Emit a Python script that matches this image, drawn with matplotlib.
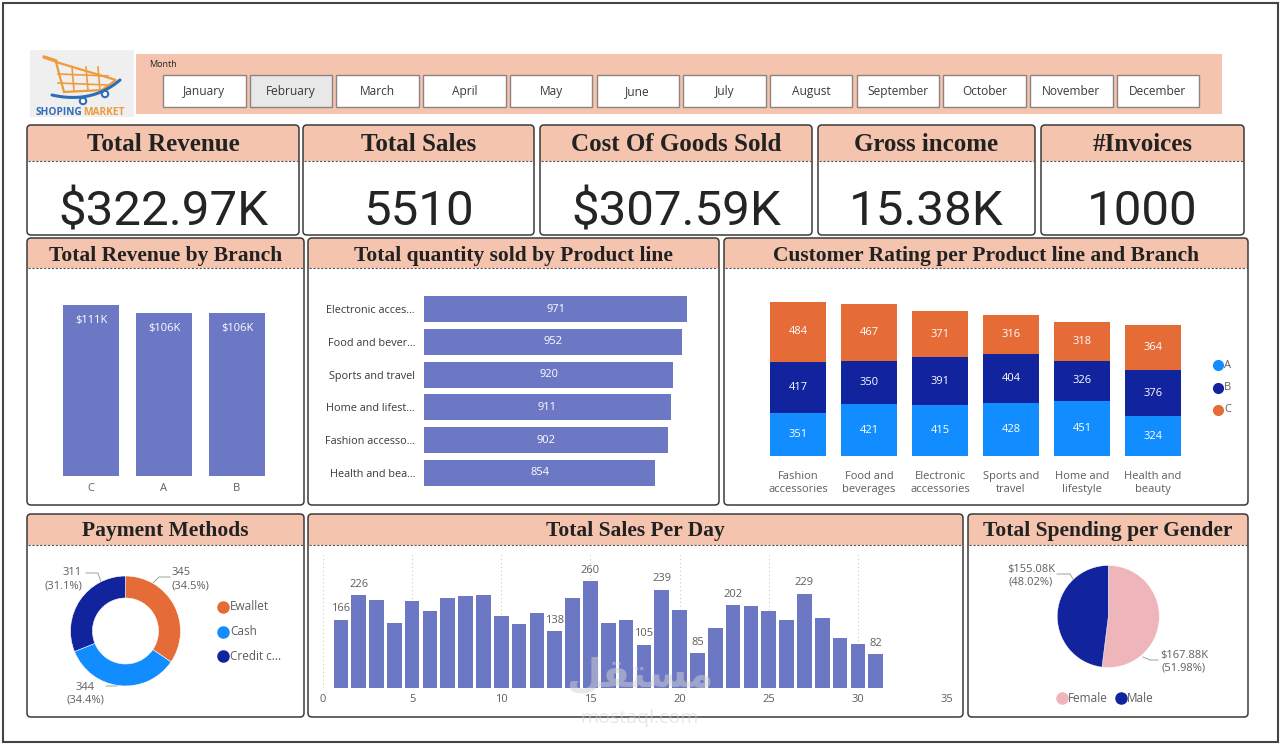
import matplotlib
matplotlib.use("Agg")
import matplotlib.pyplot as plt
from matplotlib.patches import FancyBboxPatch, Rectangle, Circle, Polygon
import numpy as np

W, H = 1282, 745

# ---- data ----
months = ["January", "February", "March", "April", "May", "June", "July",
          "August", "September", "October", "November", "December"]
selected_month = "February"

kpi_titles = ["Total Revenue", "Total Sales", "Cost Of Goods Sold", "Gross income", "#Invoices"]
kpi_values = ["$322.97K", "5510", "$307.59K", "15.38K", "1000"]

branches = ["C", "A", "B"]
branch_revenue = [111, 106, 106]  # $K

product_lines = ["Electronic acces...", "Food and bever...", "Sports and travel",
                 "Home and lifest...", "Fashion accesso...", "Health and bea..."]
product_qty = [971, 952, 920, 911, 902, 854]

rating_lines = ["Fashion\naccessories", "Food and\nbeverages", "Electronic\naccessories",
                "Sports and\ntravel", "Home and\nlifestyle", "Health and\nbeauty"]
rating_a = [351, 421, 415, 428, 451, 324]
rating_b = [417, 350, 391, 404, 326, 376]
rating_c = [484, 467, 371, 316, 318, 364]

pay_methods = ["Ewallet", "Cash", "Credit c..."]
pay_counts = [345, 344, 311]

days = list(range(1, 32))
day_sales = [166, 226, 215, 159, 213, 188, 220, 225, 227, 176, 156, 183, 138, 220, 260, 159,
             166, 105, 239, 190, 85, 146, 202, 200, 188, 166, 229, 171, 122, 107, 82]
labeled_days = [1, 2, 13, 15, 18, 19, 21, 23, 27, 31]

genders = ["Female", "Male"]
gender_spend = [167.88, 155.08]  # $K

# ---- styling ----
PEACH = "#f4c4ae"
BAR = "#6d78c4"
BLUE = "#118dff"
NAVY = "#12239e"
ORANGE = "#e66c37"
PINK = "#eeb5bb"
GREY = "#605e5c"
SERIF = "Liberation Serif"
plt.rcParams["font.family"] = ["Open Sans", "DejaVu Sans"]

fig = plt.figure(figsize=(W / 100, H / 100), dpi=100)
fig.patch.set_facecolor("white")
bg = fig.add_axes([0, 0, 1, 1])
bg.set_xlim(0, W)
bg.set_ylim(H, 0)
bg.axis("off")


def frac(x0, y0, x1, y1):
    # pixel box (top-left origin) -> figure fraction
    return [x0 / W, 1 - y1 / H, (x1 - x0) / W, (y1 - y0) / H]


def chart_ax(x0, y0, x1, y1):
    ax = fig.add_axes(frac(x0, y0, x1, y1))
    ax.patch.set_alpha(0)
    for s in ax.spines.values():
        s.set_visible(False)
    return ax


def panel(x0, y0, x1, y1, hdr, title, size, base):
    body = FancyBboxPatch((x0, y0), x1 - x0, y1 - y0, boxstyle="round,pad=0,rounding_size=4",
                          fc="white", ec="none")
    bg.add_patch(body)
    top = Rectangle((x0, y0), x1 - x0, hdr - y0, fc=PEACH, ec="none")
    bg.add_patch(top)
    top.set_clip_path(body)
    bg.plot([x0 + 1, x1 - 1], [hdr, hdr], ls=(0, (2, 1.5)), color="#555555", lw=0.8)
    bg.add_patch(FancyBboxPatch((x0, y0), x1 - x0, y1 - y0, boxstyle="round,pad=0,rounding_size=4",
                                fc="none", ec="#3a3a3a", lw=1.1, zorder=3))
    bg.text((x0 + x1) / 2, base, title, ha="center", va="baseline", family=SERIF,
            weight="bold", size=size, color="#222222")


# outer frame
bg.add_patch(Rectangle((3, 3), 1275, 739, fill=False, ec="#444444", lw=1.5))

# ---- logo ----
bg.add_patch(Rectangle((30, 50), 104, 67, fc="#efefef", ec="none"))
bg.plot([44, 56], [57, 61], color="#ef9a3c", lw=2.5, solid_capstyle="round")
bg.add_patch(Polygon([(56, 62), (116, 80), (102, 90), (64, 92)], closed=True, fill=False,
                     ec="#ef9a3c", lw=1.6))
for gx in [72, 86, 98]:
    bg.plot([gx, gx + 2], [67, 91], color="#ef9a3c", lw=1.2)
for gy in [74, 83]:
    bg.plot([58, 108], [gy, gy + 2], color="#ef9a3c", lw=1.2)
t = np.linspace(0, 1, 40)
sx = (1 - t) ** 2 * 52 + 2 * (1 - t) * t * 92 + t ** 2 * 120
sy = (1 - t) ** 2 * 95 + 2 * (1 - t) * t * 104 + t ** 2 * 80
bg.plot(sx, sy, color="#2f6db5", lw=2.2, solid_capstyle="round")
for wx, wy in [(83, 101), (105, 94)]:
    bg.add_patch(Circle((wx, wy), 3.2, fc="white", ec="#2f6db5", lw=1.5))
bg.text(36, 115, "SHOPING", color="#2f6db5", weight="bold", size=7.3, va="baseline")
bg.text(83, 115, "MARKET", color="#ef9a3c", weight="bold", size=7.3, va="baseline")

# ---- month slicer ----
bg.add_patch(Rectangle((136, 54), 1086, 60, fc=PEACH, ec="none"))
bg.text(149, 67, "Month", size=6.5, color="#252423", va="baseline")
for i, m in enumerate(months):
    bx = 163 + i * 86.7
    fc = "#e8e8e8" if m == selected_month else "white"
    bg.add_patch(Rectangle((bx, 75), 82.5, 32, fc=fc, ec="#8c8480", lw=1.0))
    bg.text(bx + 41.25, 91.5, m, ha="center", va="center", size=8.6, color="#3a3a3a")

# ---- KPI cards ----
kpi_x = [(27, 299), (303, 534), (540, 812), (818, 1035), (1041, 1244)]
for (x0, x1), ttl, val in zip(kpi_x, kpi_titles, kpi_values):
    panel(x0, 125, x1, 235, 161, ttl, 18, 151)
    bg.text((x0 + x1) / 2, 225, val, ha="center", va="baseline", family="Roboto",
            size=35.5, color="#252423")

# ---- panels ----
panel(27, 238, 304, 505, 268, "Total Revenue by Branch", 15.5, 261)
panel(308, 238, 719, 505, 268, "Total quantity sold by Product line", 15.5, 261)
panel(724, 238, 1248, 505, 268, "Customer Rating per Product line and Branch", 15.5, 261)
panel(27, 514, 304, 717, 545, "Payment Methods", 15.5, 536)
panel(308, 514, 963, 717, 545, "Total Sales Per Day", 15.5, 536)
panel(968, 514, 1248, 717, 545, "Total Spending per Gender", 15.5, 536)

# ---- revenue by branch ----
ax = chart_ax(45, 290, 285, 476)
xb = np.arange(len(branches))
ax.bar(xb, branch_revenue, width=0.767, color=BAR)
ax.set_xlim(-0.63, 2.658)
ax.set_ylim(0, 120.8)
ax.set_yticks([])
ax.set_xticks(xb, branches)
ax.tick_params(axis="x", length=0, pad=5, labelsize=8, labelcolor=GREY)
for x, v in zip(xb, branch_revenue):
    ax.annotate(f"${v}K", (x, v), xytext=(0, -11), textcoords="offset points",
                ha="center", va="center", color="white", size=8)

# ---- quantity by product line ----
ax = chart_ax(424, 292, 704, 490)
yp = np.arange(len(product_lines))
ax.barh(yp, product_qty, height=0.79, color=BAR)
ax.set_xlim(0, 1033.6)
ax.set_ylim(5.52, -0.52)
ax.set_xticks([])
ax.set_yticks(yp, product_lines)
ax.tick_params(axis="y", length=0, pad=6.5, labelsize=7.8, labelcolor="#3a3a3a")
for y, v in zip(yp, product_qty):
    ax.text(v / 2, y, str(v), ha="center", va="center", color="white", size=8)

# ---- customer rating stacked ----
ax = chart_ax(760, 290, 1190, 456)
xr = np.arange(len(rating_lines))
bottom = np.zeros(len(rating_lines))
for vals, col in [(rating_a, BLUE), (rating_b, NAVY), (rating_c, ORANGE)]:
    ax.bar(xr, vals, width=0.785, bottom=bottom, color=col)
    for x, b, v in zip(xr, bottom, vals):
        ax.text(x, b + v / 2, str(v), ha="center", va="center", color="white", size=8)
    bottom += np.array(vals)
ax.set_xlim(-0.535, 5.521)
ax.set_ylim(0, 1352)
ax.set_yticks([])
ax.set_xticks(xr, rating_lines)
ax.tick_params(axis="x", length=0, pad=10.5, labelsize=8, labelcolor=GREY)
for lbl in ax.get_xticklabels():
    lbl.set_linespacing(1.3)
for i, (name, col) in enumerate(zip(["A", "B", "C"], [BLUE, NAVY, ORANGE])):
    bg.plot(1218, 365 + i * 22.5, "o", ms=7, color=col)
    bg.text(1224, 365 + i * 22.5, name, va="center", size=8, color=GREY)

# ---- payment methods donut ----
ax = chart_ax(70.5, 576, 180.5, 686)
ax.pie(pay_counts, colors=[ORANGE, BLUE, NAVY], startangle=90, counterclock=False,
       wedgeprops=dict(width=0.4, edgecolor="white", linewidth=0.4))
ax.set_xlim(-1, 1)
ax.set_ylim(-1, 1)
tot = sum(pay_counts)
pay_txt = [f"{v}\n({v / tot * 100:.1f}%)" for v in pay_counts]
# label anchors and leader lines (pixel layout)
bg.plot([151, 159, 170], [585, 577, 577], color="#a0a0a0", lw=0.7)
bg.text(172, 579, pay_txt[0], ha="left", va="center", size=8, color=GREY, linespacing=1.25)
bg.plot([120, 117, 106], [682, 686, 686], color="#a0a0a0", lw=0.7)
bg.text(104, 694, pay_txt[1], ha="right", va="center", size=8, color=GREY,
        multialignment="center", linespacing=1.25)
bg.plot([101, 98, 86], [582, 573, 573], color="#a0a0a0", lw=0.7)
bg.text(82, 579, pay_txt[2], ha="right", va="center", size=8, color=GREY,
        multialignment="right", linespacing=1.25)
for i, (name, col) in enumerate(zip(pay_methods, [ORANGE, BLUE, NAVY])):
    bg.plot(223, 607 + i * 24.5, "o", ms=8, color=col)
    bg.text(230, 607 + i * 24.5, name, va="center", size=8.5, color=GREY)

# ---- total sales per day ----
ax = chart_ax(323, 555, 947, 688)
ax.bar(days, day_sales, width=0.82, color=BAR, zorder=2)
ax.set_xlim(0, 35)
ax.set_ylim(0, 324)
ax.set_yticks([])
ax.set_xticks(range(0, 36, 5))
ax.tick_params(axis="x", length=0, pad=4, labelsize=8, labelcolor=GREY)
ax.grid(axis="x", ls=(0, (1, 2.5)), color="#c8c8c8", lw=0.8, zorder=0)
for d, v in zip(days, day_sales):
    if d in labeled_days:
        ax.annotate(str(v), (d, v), xytext=(0, 4), textcoords="offset points",
                    ha="center", va="bottom", size=8, color=GREY)

# ---- spending per gender pie ----
ax = chart_ax(1057.3, 565.5, 1159.3, 667.5)
ax.pie(gender_spend, colors=[PINK, NAVY], startangle=90, counterclock=False,
       wedgeprops=dict(edgecolor="white", linewidth=0.3))
ax.set_xlim(-1, 1)
ax.set_ylim(-1, 1)
gtot = sum(gender_spend)
g_txt = [f"${v:.2f}K\n({v / gtot * 100:.2f}%)" for v in gender_spend]
bg.plot([1143, 1150, 1158], [657, 660, 660], color="#a0a0a0", lw=0.7)
bg.text(1160, 662, g_txt[0], ha="left", va="center", size=8, color=GREY,
        multialignment="center", linespacing=1.25)
bg.plot([1073, 1070, 1057], [579, 574, 574], color="#a0a0a0", lw=0.7)
bg.text(1031, 576, g_txt[1], ha="center", va="center", size=8, color=GREY,
        multialignment="center", linespacing=1.25)
for name, col, gx in zip(genders, [PINK, NAVY], [1062, 1121]):
    bg.plot(gx, 698, "o", ms=8, color=col)
    bg.text(gx + 6, 698, name, va="center", size=8.5, color=GREY)

# ---- faint watermark ----
fig.text(640 / W, 1 - 676 / H, "\uFEDE\uFED8\uFE98\uFEB4\uFEE3", ha="center", va="center",
         family="DejaVu Sans", weight="bold", size=29, color="#d0d0d0", alpha=0.5, zorder=10)
fig.text(640 / W, 1 - 718 / H, "mostaql.com", ha="center", va="center", size=14,
         color="#d0d0d0", alpha=0.5, zorder=10)

fig.savefig("out.png", dpi=100)
